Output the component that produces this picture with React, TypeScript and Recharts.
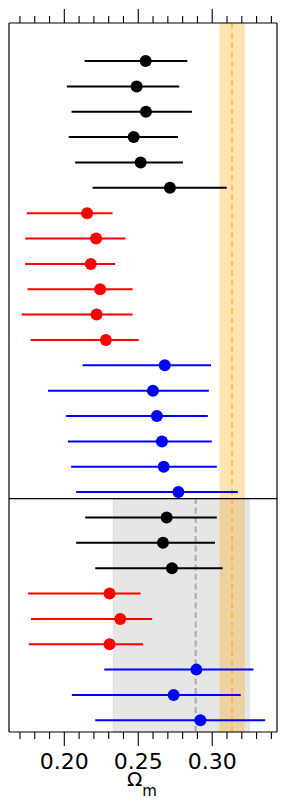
import {
  ScatterChart,
  Scatter,
  ErrorBar,
  XAxis,
  YAxis,
  ReferenceArea,
  ReferenceLine
} from 'recharts';

// one row per measurement, top to bottom
const omegaM = [
  0.2550, 0.2489, 0.2552, 0.2469, 0.2516, 0.2714,
  0.2154, 0.2215, 0.2179, 0.2242, 0.2218, 0.2281,
  0.2679, 0.2599, 0.2626, 0.2660, 0.2672, 0.2771,
  0.2692, 0.2667, 0.2728,
  0.2306, 0.2378, 0.2306,
  0.2893, 0.2739, 0.2920
];
const errLow = [
  0.0413, 0.0472, 0.0503, 0.0439, 0.0443, 0.0523,
  0.0408, 0.0480, 0.0444, 0.0491, 0.0506, 0.0508,
  0.0556, 0.0709, 0.0614, 0.0636, 0.0626, 0.0691,
  0.0551, 0.0587, 0.0519,
  0.0551, 0.0603, 0.0546,
  0.0623, 0.0688, 0.0711
];
const errHigh = [
  0.0282, 0.0288, 0.0311, 0.0300, 0.0286, 0.0384,
  0.0172, 0.0199, 0.0165, 0.0220, 0.0244, 0.0221,
  0.0313, 0.0378, 0.0344, 0.0337, 0.0359, 0.0402,
  0.0339, 0.0352, 0.0343,
  0.0210, 0.0215, 0.0227,
  0.0386, 0.0454, 0.0438
];
const rowColor = [
  'k', 'k', 'k', 'k', 'k', 'k',
  'r', 'r', 'r', 'r', 'r', 'r',
  'b', 'b', 'b', 'b', 'b', 'b',
  'k', 'k', 'k',
  'r', 'r', 'r',
  'b', 'b', 'b'
];

const minorTicks = [
  0.17, 0.18, 0.19, 0.20, 0.21, 0.22, 0.23, 0.24, 0.25,
  0.26, 0.27, 0.28, 0.29, 0.30, 0.31, 0.32, 0.33, 0.34
];
const majorTicks = [0.20, 0.25, 0.30];

// reference bands
const planckMean = 0.3134;
const planckBand = [0.3051, 0.3218];
const combinedMean = 0.2888;
const combinedBand = [0.2330, 0.3251];

const X_DOMAIN = [0.1626, 0.3438];
const Y_DOMAIN = [-26.46, 1.5];
const DIVIDER_Y = -17.26;

const COLORS: Record<string, string> = { k: '#000000', r: '#ff0000', b: '#0000ff' };

const rows = omegaM.map((x, i) => ({
  x,
  y: -i,
  err: [errLow[i], errHigh[i]],
  c: rowColor[i]
}));

const isMajor = (v: number) => majorTicks.some((m) => Math.abs(m - v) < 1e-6);

const renderTick = (props: any, side: 'top' | 'bottom') => {
  const { x, y, payload } = props;
  const major = isMajor(payload.value);
  const len = major ? 14 : 7;
  const dir = side === 'bottom' ? 1 : -1;
  return (
    <g>
      <line x1={x} x2={x} y1={y} y2={y + dir * len} stroke="#000" strokeWidth={1.1} />
      {side === 'bottom' && major && (
        <text x={x} y={y + 36.5} textAnchor="middle" fontSize={22} fontFamily="DejaVu Sans" fill="#000">
          {payload.value.toFixed(2)}
        </text>
      )}
    </g>
  );
};

const dot = (color: string) => (props: any) =>
  <circle cx={props.cx} cy={props.cy} r={6} fill={color} />;

export default function App() {
  return (
    <div style={{ position: 'absolute', left: 0, top: 0 }}>
      <ScatterChart width={287} height={806} margin={{ top: 0, right: 9, bottom: 0, left: 8 }}>
        <XAxis
          xAxisId="t"
          orientation="top"
          type="number"
          dataKey="x"
          domain={X_DOMAIN}
          allowDataOverflow
          ticks={minorTicks}
          interval={0}
          height={23}
          tickSize={0}
          tickMargin={0}
          tickLine={false}
          axisLine={{ stroke: '#000', strokeWidth: 1.2 }}
          tick={(p: any) => renderTick(p, 'top')}
        />
        <XAxis
          xAxisId="b"
          orientation="bottom"
          type="number"
          dataKey="x"
          domain={X_DOMAIN}
          allowDataOverflow
          ticks={minorTicks}
          interval={0}
          height={74}
          tickSize={0}
          tickMargin={0}
          tickLine={false}
          axisLine={{ stroke: '#000', strokeWidth: 1.2 }}
          tick={(p: any) => renderTick(p, 'bottom')}
          label={{
            content: (lp: any) => {
              const vb = lp.viewBox;
              const cx = vb.x + vb.width / 2;
              return (
                <text x={cx - 16} y={vb.y + 54} fontFamily="DejaVu Sans" fill="#000">
                  <tspan fontSize={20}>Ω</tspan>
                  <tspan fontSize={15} dy={10}>m</tspan>
                </text>
              );
            }
          }}
        />
        <YAxis
          yAxisId="l"
          type="number"
          dataKey="y"
          domain={Y_DOMAIN}
          allowDataOverflow
          width={1}
          tick={false}
          tickLine={false}
          axisLine={{ stroke: '#000', strokeWidth: 1.2 }}
        />
        <YAxis
          yAxisId="r"
          orientation="right"
          type="number"
          dataKey="y"
          domain={Y_DOMAIN}
          allowDataOverflow
          width={1}
          tick={false}
          tickLine={false}
          axisLine={{ stroke: '#000', strokeWidth: 1.2 }}
        />

        <ReferenceArea
          xAxisId="b"
          yAxisId="l"
          x1={combinedBand[0]}
          x2={combinedBand[1]}
          y1={Y_DOMAIN[0]}
          y2={DIVIDER_Y}
          fill="#808080"
          fillOpacity={0.2}
          stroke="#808080"
          strokeOpacity={0.15}
        />
        <ReferenceLine
          xAxisId="b"
          yAxisId="l"
          segment={[{ x: combinedMean, y: Y_DOMAIN[0] }, { x: combinedMean, y: DIVIDER_Y }]}
          stroke="#aaaaaa"
          strokeWidth={2}
          strokeDasharray="6 3.5"
        />
        <ReferenceArea
          xAxisId="b"
          yAxisId="l"
          x1={planckBand[0]}
          x2={planckBand[1]}
          y1={Y_DOMAIN[0]}
          y2={Y_DOMAIN[1]}
          fill="#ffa500"
          fillOpacity={0.3}
          stroke="#ffa500"
          strokeOpacity={0.15}
        />
        <ReferenceLine
          xAxisId="b"
          yAxisId="l"
          x={planckMean}
          stroke="#ffa500"
          strokeOpacity={0.55}
          strokeWidth={2}
          strokeDasharray="6 3.5"
        />
        <ReferenceLine xAxisId="b" yAxisId="l" y={DIVIDER_Y} stroke="#000" strokeWidth={1.3} />

        {(['k', 'r', 'b'] as const).map((c) => (
          <Scatter
            key={c}
            xAxisId="b"
            yAxisId="l"
            data={rows.filter((r) => r.c === c)}
            fill={COLORS[c]}
            shape={dot(COLORS[c])}
            isAnimationActive={false}
          >
            <ErrorBar dataKey="err" direction="x" width={0} stroke={COLORS[c]} strokeWidth={2} />
          </Scatter>
        ))}
      </ScatterChart>
    </div>
  );
}
